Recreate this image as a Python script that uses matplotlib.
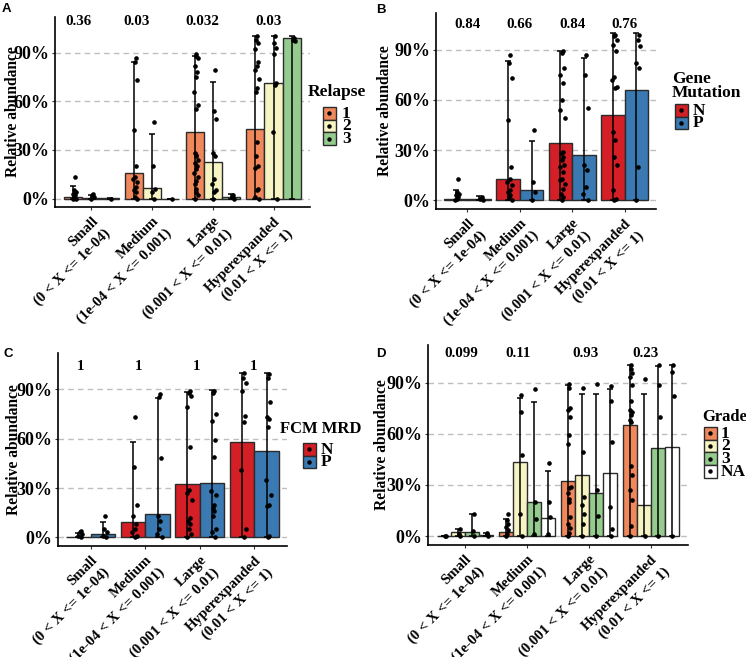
import matplotlib
matplotlib.use('Agg')
import matplotlib.pyplot as plt
import matplotlib.transforms as mtransforms
from matplotlib.patches import Rectangle
from matplotlib.lines import Line2D
import numpy as np

plt.rcParams['font.family'] = ['Liberation Serif', 'DejaVu Serif']
plt.rcParams['font.weight'] = 'bold'

categories = ['Small\n(0 < X <= 1e-04)', 'Medium\n(1e-04 < X <= 0.001)',
              'Large\n(0.001 < X <= 0.01)', 'Hyperexpanded\n(0.01 < X <= 1)']

# --- panel A: Relapse
relapse_groups = ['1', '2', '3']
relapse_mean = [[0.010, 0.156, 0.410, 0.427],
                [0.005, 0.064, 0.226, 0.710],
                [0.001, 0.000, 0.010, 0.992]]
relapse_err = [[0.078, 0.84, 0.88, 1.0],
               [0.025, 0.40, 0.72, 1.0],
               [0.001, 0.0, 0.03, 1.0]]
relapse_points = [
    [[0.13, 0.05, 0.04, 0.03, 0.02, 0.01, 0.0, 0.0],
     [0.87, 0.84, 0.73, 0.42, 0.20, 0.13, 0.12, 0.10, 0.07, 0.05, 0.04, 0.01, 0.0],
     [0.89, 0.88, 0.87, 0.82, 0.78, 0.75, 0.66, 0.58, 0.55, 0.28, 0.27, 0.26, 0.24, 0.22,
      0.20, 0.18, 0.16, 0.13, 0.11, 0.09, 0.06, 0.04, 0.02, 0.0],
     [1.0, 0.98, 0.96, 0.92, 0.84, 0.82, 0.79, 0.74, 0.68, 0.66, 0.35, 0.26, 0.20, 0.19,
      0.06, 0.05, 0.01, 0.0]],
    [[0.03, 0.02, 0.01, 0.0],
     [0.47, 0.20, 0.06, 0.04, 0.0],
     [0.79, 0.54, 0.49, 0.28, 0.26, 0.12, 0.09, 0.05, 0.04, 0.0],
     [1.0, 0.96, 0.93, 0.89, 0.71, 0.70, 0.41, 0.0]],
    [[0.0], [0.0], [0.02, 0.01, 0.0], [0.99, 0.98, 0.97]],
]
relapse_p = ['0.36', '0.03', '0.032', '0.03']

# --- panel B: Gene Mutation
mutation_groups = ['N', 'P']
mutation_mean = [[0.010, 0.130, 0.344, 0.513],
                 [0.005, 0.060, 0.270, 0.662]]
mutation_err = [[0.06, 0.83, 0.89, 1.0],
                [0.024, 0.354, 0.85, 1.0]]
mutation_points = [
    [[0.13, 0.05, 0.04, 0.03, 0.02, 0.01, 0.0],
     [0.87, 0.82, 0.73, 0.48, 0.20, 0.13, 0.11, 0.09, 0.06, 0.05, 0.03, 0.02, 0.0],
     [0.89, 0.88, 0.79, 0.75, 0.70, 0.60, 0.54, 0.49, 0.29, 0.28, 0.26, 0.24, 0.21, 0.20,
      0.17, 0.13, 0.12, 0.10, 0.07, 0.04, 0.02, 0.0],
     [0.99, 0.98, 0.96, 0.93, 0.89, 0.74, 0.72, 0.68, 0.67, 0.41, 0.36, 0.26, 0.21, 0.06,
      0.01, 0.0]],
    [[0.02, 0.01, 0.0],
     [0.42, 0.11, 0.05, 0.0],
     [0.87, 0.75, 0.55, 0.21, 0.18, 0.08, 0.04, 0.0],
     [0.99, 0.96, 0.92, 0.82, 0.79, 0.20, 0.0]],
]
mutation_p = ['0.84', '0.66', '0.84', '0.76']

# --- panel C: FCM MRD
mrd_groups = ['N', 'P']
mrd_mean = [[0.003, 0.094, 0.326, 0.582],
            [0.020, 0.145, 0.333, 0.523]]
mrd_err = [[0.025, 0.58, 0.883, 1.0],
           [0.094, 0.845, 0.894, 1.0]]
mrd_points = [
    [[0.04, 0.03, 0.02, 0.01, 0.0],
     [0.73, 0.43, 0.20, 0.13, 0.08, 0.05, 0.03, 0.01, 0.0],
     [0.89, 0.88, 0.86, 0.79, 0.55, 0.29, 0.27, 0.23, 0.12, 0.10, 0.08, 0.05, 0.02, 0.0],
     [1.0, 0.97, 0.94, 0.89, 0.74, 0.70, 0.41, 0.05, 0.0]],
    [[0.13, 0.05, 0.03, 0.01, 0.0],
     [0.87, 0.85, 0.48, 0.13, 0.10, 0.05, 0.02, 0.0],
     [0.89, 0.88, 0.75, 0.71, 0.59, 0.49, 0.28, 0.26, 0.20, 0.18, 0.16, 0.13, 0.05, 0.03, 0.0],
     [0.99, 0.97, 0.82, 0.73, 0.72, 0.67, 0.35, 0.26, 0.20, 0.19, 0.01, 0.0]],
]
mrd_p = ['1', '1', '1', '1']

# --- panel D: Grade
grade_groups = ['1', '2', '3', 'NA']
grade_mean = [[0.002, 0.027, 0.322, 0.650],
              [0.024, 0.437, 0.359, 0.184],
              [0.025, 0.200, 0.255, 0.518],
              [0.005, 0.108, 0.367, 0.524]]
grade_err = [[0.002, 0.098, 0.886, 1.0],
             [0.043, 0.81, 0.833, 0.833],
             [0.13, 0.788, 0.83, 0.998],
             [0.02, 0.382, 0.86, 1.0]]
grade_points = [
    [[0.0, 0.0],
     [0.13, 0.096, 0.069, 0.053, 0.037, 0.014, 0.0],
     [0.89, 0.87, 0.75, 0.74, 0.70, 0.59, 0.54, 0.29, 0.28, 0.25, 0.22, 0.20, 0.11, 0.07,
      0.05, 0.02, 0.0],
     [1.0, 0.98, 0.955, 0.93, 0.886, 0.79, 0.74, 0.73, 0.71, 0.68, 0.67, 0.41, 0.36, 0.27,
      0.21, 0.06, 0.0]],
    [[0.043, 0.014, 0.0],
     [0.827, 0.73, 0.478, 0.13, 0.0],
     [0.867, 0.494, 0.23, 0.18, 0.13, 0.073, 0.0],
     [0.92, 0.0]],
    [[0.13, 0.03, 0.0],
     [0.865, 0.20, 0.10, 0.014],
     [0.89, 0.27, 0.116, 0.0],
     [1.0, 0.886, 0.696, 0.0]],
    [[0.02, 0.01, 0.0],
     [0.43, 0.20, 0.11, 0.01],
     [0.88, 0.79, 0.55, 0.17, 0.04, 0.0],
     [1.0, 0.96, 0.82, 0.0]],
]
grade_p = ['0.099', '0.11', '0.93', '0.23']

orange, yellow, green = '#F0885C', '#F7F4C3', '#95CB8E'
red, blue = '#D41F26', '#3A79B1'
edge = '#2B2B2B'
jitter = [0.10, 0.05, 0.16, 0.0, 0.12, 0.07, -0.03, 0.18, 0.09, 0.02]

W, H = 746, 657


def fx(px):
    return px / W


def fy(py):
    return 1 - py / H


def draw_legend(fig, title, groups, colors, spec, title_size):
    # spec: title x, title top, key x, key top, label x (pixels)
    tx, ty, kx, ky, lx = spec
    ks, pitch = 12.5, 12.7
    fig.text(fx(tx), fy(ty), title, ha='left', va='top', fontsize=title_size,
             fontweight='bold', linespacing=0.85)
    for i, (g, c) in enumerate(zip(groups, colors)):
        top = ky + i * pitch
        fig.add_artist(Rectangle((fx(kx), fy(top + ks)), ks / W, ks / H,
                                 transform=fig.transFigure, facecolor=c,
                                 edgecolor=edge, linewidth=1.0))
        fig.add_artist(Line2D([fx(kx + ks / 2)], [fy(top + ks / 2)], marker='o',
                              ms=2.2, color='black', transform=fig.transFigure))
        fig.text(fx(lx), fy(top + ks / 2 + 0.5), g, ha='left', va='center',
                 fontsize=12.5, fontweight='bold')


def panel(fig, box, letter, letter_xy, groups, colors, means, errs, points, pvals,
          p_y, p_dx, ylabel_px, legend_title, legend_spec, title_size=12.5,
          label_dx=0):
    l, t, r, b = box
    ax = fig.add_axes([l / W, 1 - b / H, (r - l) / W, (b - t) / H])
    n = len(groups)
    width = 0.9 / n
    x = np.arange(1, len(categories) + 1)

    for yv in [0, 0.3, 0.6, 0.9]:
        ax.axhline(yv, color='#BEBEBE', lw=1.0, dashes=(4, 3), zorder=0)

    for i in range(n):
        xs = x - 0.45 + width * (i + 0.5)
        m = np.array(means[i])
        up = np.clip(np.array(errs[i]) - m, 0, None)
        ax.bar(xs, m, width=width, color=colors[i], edgecolor=edge,
               linewidth=1.0, zorder=2)
        ax.errorbar(xs, m, yerr=[m, up], fmt='none', ecolor='black',
                    elinewidth=1.1, capsize=2.5, capthick=1.1, zorder=3)
        for j in range(len(categories)):
            vals = points[i][j]
            offs = [jitter[k % len(jitter)] * width for k in range(len(vals))]
            ax.plot(xs[j] + np.array(offs), vals, 'o', color='black', ms=2.3,
                    zorder=4)

    for j, p in enumerate(pvals):
        ax.text(x[j] + p_dx[j], p_y, p, ha='center', va='center',
                fontsize=10.8, fontweight='bold')

    ax.set_xlim(0.4, 4.6)
    ax.set_ylim(-0.052, 1.12)
    ax.set_yticks([0, 0.3, 0.6, 0.9])
    ax.set_yticklabels(['0%', '30%', '60%', '90%'], fontsize=13, fontweight='bold')
    ax.set_xticks(x)
    ax.set_xticklabels(categories, rotation=45, ha='right', va='top',
                       rotation_mode='anchor', fontsize=10.6, fontweight='bold',
                       linespacing=1.4)
    if label_dx:
        shift = mtransforms.ScaledTranslation(label_dx / 100, 0, fig.dpi_scale_trans)
        for lab in ax.get_xticklabels():
            lab.set_transform(lab.get_transform() + shift)
    ax.tick_params(length=2.5, width=0.8, pad=1.5, color='#333333')
    ax.tick_params(axis='x', pad=3)
    ax.set_ylabel('Relative abundance', fontsize=11.2, fontweight='bold')
    ax.yaxis.set_label_coords((ylabel_px - l) / (r - l), 0.5)
    for s in ['top', 'right']:
        ax.spines[s].set_visible(False)
    for s in ['left', 'bottom']:
        ax.spines[s].set_linewidth(1.2)

    draw_legend(fig, legend_title, groups, colors, legend_spec, title_size)

    fig.text(fx(letter_xy[0]), fy(letter_xy[1]), letter,
             family=['Liberation Sans', 'DejaVu Sans'],
             fontsize=9.5, fontweight='bold', va='top', ha='left')
    return ax


fig = plt.figure(figsize=(W / 100, H / 100), dpi=100)

panel(fig, (55, 17, 310, 207), 'A', (2, 3), relapse_groups, [orange, yellow, green],
      relapse_mean, relapse_err, relapse_points, relapse_p,
      1.093, [-0.22, -0.25, -0.17, -0.08], 21, 'Relapse', (308, 84, 323, 107, 342),
      label_dx=-10)
panel(fig, (436, 13, 656, 209), 'B', (376, 4), mutation_groups, [red, blue],
      mutation_mean, mutation_err, mutation_points, mutation_p,
      1.049, [0, 0, 0, 0], 393, 'Gene\nMutation', (672, 71, 675, 104, 693))
panel(fig, (58, 353, 287, 546), 'C', (3, 348), mrd_groups, [red, blue],
      mrd_mean, mrd_err, mrd_points, mrd_p,
      1.037, [-0.18, -0.13, -0.06, -0.02], 22, 'FCM MRD', (280, 421, 303, 443, 321),
      title_size=12)
panel(fig, (428, 345, 688, 545), 'D', (376, 348), grade_groups,
      [orange, yellow, green, '#FFFFFF'],
      grade_mean, grade_err, grade_points, grade_p,
      1.07, [-0.06, -0.15, -0.05, -0.08], 390, 'Grade', (702, 409, 704, 427, 721),
      title_size=12)

fig.savefig('out.png', dpi=100)
